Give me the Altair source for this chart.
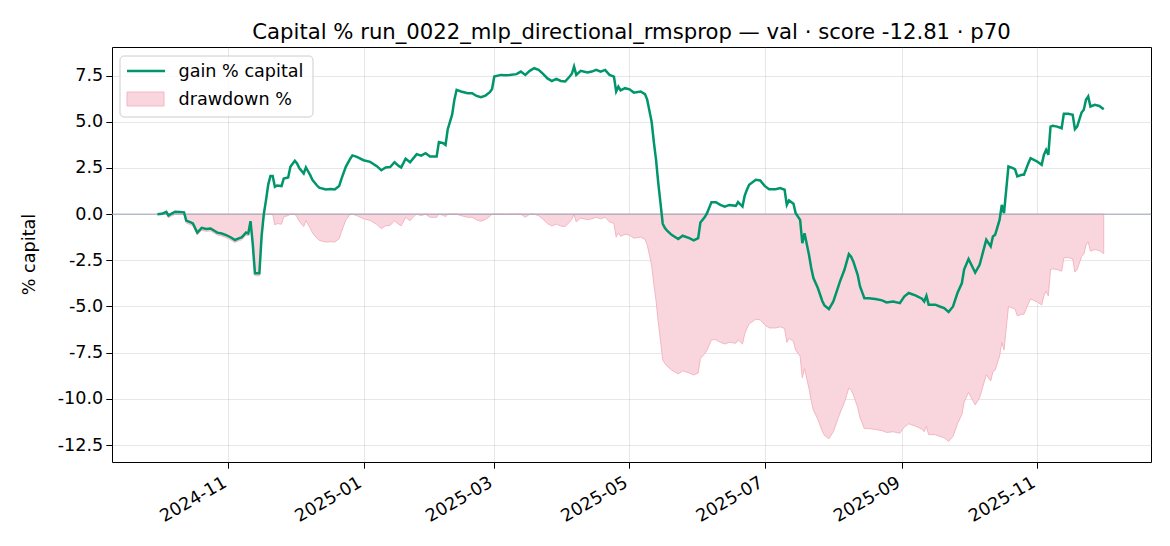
import altair as alt
import pandas as pd

TITLE = "Capital % run_0022_mlp_directional_rmsprop — val · score -12.81 · p70"
Y_TITLE = "% capital"
LEGEND_LABELS = ["gain % capital", "drawdown %"]
Y_TICKS = [-12.5, -10.0, -7.5, -5.0, -2.5, 0.0, 2.5, 5.0, 7.5]
X_TICK_MONTHS = [(2024, 11), (2025, 1), (2025, 3), (2025, 5), (2025, 7), (2025, 9), (2025, 11)]
Y_DOMAIN = [-13.42, 9.05]

DATES = [
    "2024-09-30", "2024-10-02", "2024-10-04", "2024-10-05", "2024-10-06", "2024-10-08", "2024-10-10",
    "2024-10-12", "2024-10-13", "2024-10-15", "2024-10-16", "2024-10-18", "2024-10-20", "2024-10-22",
    "2024-10-24", "2024-10-27", "2024-10-29", "2024-10-31", "2024-11-02", "2024-11-04", "2024-11-06",
    "2024-11-07", "2024-11-09", "2024-11-10", "2024-11-11", "2024-11-12", "2024-11-13", "2024-11-15",
    "2024-11-16", "2024-11-17", "2024-11-18", "2024-11-19", "2024-11-20", "2024-11-21", "2024-11-22",
    "2024-11-23", "2024-11-25", "2024-11-26", "2024-11-28", "2024-11-29", "2024-12-01", "2024-12-02",
    "2024-12-03", "2024-12-05", "2024-12-06", "2024-12-08", "2024-12-09", "2024-12-11", "2024-12-12",
    "2024-12-15", "2024-12-17", "2024-12-19", "2024-12-21", "2024-12-22", "2024-12-24", "2024-12-26",
    "2024-12-27", "2024-12-29", "2025-01-01", "2025-01-04", "2025-01-07", "2025-01-09", "2025-01-11",
    "2025-01-13", "2025-01-15", "2025-01-17", "2025-01-18", "2025-01-20", "2025-01-22", "2025-01-24",
    "2025-01-25", "2025-01-27", "2025-01-29", "2025-01-31", "2025-02-03", "2025-02-04", "2025-02-06",
    "2025-02-07", "2025-02-08", "2025-02-09", "2025-02-10", "2025-02-11", "2025-02-12", "2025-02-14",
    "2025-02-17", "2025-02-19", "2025-02-21", "2025-02-23", "2025-02-25", "2025-02-27", "2025-02-28",
    "2025-03-01", "2025-03-04", "2025-03-06", "2025-03-08", "2025-03-11", "2025-03-13", "2025-03-15",
    "2025-03-17", "2025-03-19", "2025-03-21", "2025-03-23", "2025-03-25", "2025-03-27", "2025-03-29",
    "2025-03-31", "2025-04-02", "2025-04-04", "2025-04-05", "2025-04-06", "2025-04-07", "2025-04-09",
    "2025-04-12", "2025-04-14", "2025-04-16", "2025-04-18", "2025-04-20", "2025-04-22", "2025-04-24",
    "2025-04-25", "2025-04-26", "2025-04-27", "2025-04-29", "2025-05-01", "2025-05-03", "2025-05-06",
    "2025-05-08", "2025-05-09", "2025-05-10", "2025-05-11", "2025-05-12", "2025-05-13", "2025-05-14",
    "2025-05-15", "2025-05-16", "2025-05-17", "2025-05-18", "2025-05-20", "2025-05-23", "2025-05-25",
    "2025-05-28", "2025-05-30", "2025-06-01", "2025-06-02", "2025-06-04", "2025-06-05", "2025-06-07",
    "2025-06-09", "2025-06-11", "2025-06-13", "2025-06-15", "2025-06-18", "2025-06-19", "2025-06-21",
    "2025-06-22", "2025-06-23", "2025-06-24", "2025-06-27", "2025-06-29", "2025-07-01", "2025-07-03",
    "2025-07-06", "2025-07-08", "2025-07-10", "2025-07-11", "2025-07-12", "2025-07-14", "2025-07-15",
    "2025-07-17", "2025-07-18", "2025-07-19", "2025-07-21", "2025-07-22", "2025-07-23", "2025-07-25",
    "2025-07-27", "2025-07-28", "2025-07-30", "2025-08-01", "2025-08-03", "2025-08-04", "2025-08-06",
    "2025-08-08", "2025-08-09", "2025-08-10", "2025-08-12", "2025-08-13", "2025-08-15", "2025-08-17",
    "2025-08-20", "2025-08-23", "2025-08-25", "2025-08-28", "2025-08-31", "2025-09-02", "2025-09-04",
    "2025-09-07", "2025-09-10", "2025-09-11", "2025-09-12", "2025-09-13", "2025-09-16", "2025-09-18",
    "2025-09-20", "2025-09-22", "2025-09-24", "2025-09-26", "2025-09-28", "2025-09-29", "2025-10-01",
    "2025-10-03", "2025-10-04", "2025-10-06", "2025-10-08", "2025-10-09", "2025-10-11", "2025-10-12",
    "2025-10-13", "2025-10-15", "2025-10-16", "2025-10-17", "2025-10-18", "2025-10-19", "2025-10-21",
    "2025-10-22", "2025-10-23", "2025-10-25", "2025-10-26", "2025-10-28", "2025-10-29", "2025-11-01",
    "2025-11-03", "2025-11-04", "2025-11-05", "2025-11-06", "2025-11-07", "2025-11-08", "2025-11-10",
    "2025-11-12", "2025-11-13", "2025-11-15", "2025-11-17", "2025-11-18", "2025-11-19", "2025-11-21",
    "2025-11-22", "2025-11-23", "2025-11-24", "2025-11-25", "2025-11-27", "2025-11-29", "2025-12-01",
]

GAIN = [
    0.00, 0.02, 0.13, -0.07, 0.00, 0.13, 0.12,
    0.10, -0.35, -0.45, -0.50, -1.00, -0.74, -0.80,
    -0.78, -1.00, -1.05, -1.14, -1.25, -1.40, -1.30,
    -1.26, -1.00, -1.05, -0.38, -1.60, -3.20, -3.20,
    -1.20, 0.00, 0.76, 1.60, 2.07, 2.07, 1.48,
    1.55, 1.52, 1.93, 1.99, 2.56, 2.89, 2.74,
    2.50, 2.20, 2.53, 2.10, 1.84, 1.55, 1.43,
    1.34, 1.36, 1.34, 1.52, 1.90, 2.56, 3.00,
    3.18, 3.10, 2.92, 2.83, 2.60, 2.38, 2.53,
    2.55, 2.81, 2.60, 2.53, 3.00, 2.81, 3.10,
    3.25, 3.17, 3.30, 3.12, 3.12, 3.90, 3.84,
    3.75, 4.60, 5.00, 5.40, 6.20, 6.73, 6.64,
    6.55, 6.55, 6.40, 6.33, 6.42, 6.60, 6.78,
    7.45, 7.54, 7.52, 7.54, 7.58, 7.72, 7.54,
    7.76, 7.90, 7.81, 7.60, 7.35, 7.21, 7.32,
    7.21, 7.18, 7.45, 7.60, 7.99, 7.54, 7.76,
    7.67, 7.72, 7.81, 7.72, 7.81, 7.54, 7.45,
    6.64, 6.90, 6.70, 6.82, 6.76, 6.58, 6.64,
    6.50, 6.20, 5.60, 5.00, 3.90, 2.94, 1.68,
    0.60, -0.52, -0.75, -0.90, -1.12, -1.35, -1.17,
    -1.30, -1.42, -1.30, -0.45, -0.16, 0.05, 0.65,
    0.65, 0.50, 0.41, 0.50, 0.45, 0.65, 0.41,
    1.00, 1.32, 1.59, 1.86, 1.82, 1.53, 1.35,
    1.35, 1.41, 1.32, 0.50, 0.74, 0.56, 0.05,
    -0.31, -1.57, -1.03, -2.20, -2.90, -3.46, -4.00,
    -4.70, -4.95, -5.14, -4.73, -4.00, -3.64, -3.01,
    -2.16, -2.30, -2.56, -3.30, -3.90, -4.55, -4.55,
    -4.60, -4.67, -4.78, -4.73, -4.82, -4.46, -4.27,
    -4.40, -4.58, -4.73, -4.42, -4.90, -4.90, -5.00,
    -5.09, -5.30, -5.00, -4.27, -3.73, -3.00, -2.43,
    -2.92, -3.16, -2.74, -1.84, -1.39, -1.75, -1.21,
    -1.12, -0.31, 0.50, 0.05, 1.32, 2.58, 2.49,
    2.43, 2.04, 2.13, 2.13, 2.76, 3.03, 2.85,
    2.67, 3.21, 3.48, 3.21, 4.74, 4.78, 4.74,
    4.65, 5.43, 5.43, 5.38, 4.60, 4.74, 5.50,
    5.65, 6.19, 6.37, 5.83, 5.92, 5.86, 5.68,
]

DRAWDOWN = [
    0.00, 0.00, 0.00, -0.20, -0.13, 0.00, -0.01,
    -0.03, -0.48, -0.58, -0.63, -1.13, -0.87, -0.93,
    -0.91, -1.13, -1.18, -1.27, -1.38, -1.53, -1.43,
    -1.39, -1.13, -1.18, -0.51, -1.73, -3.33, -3.33,
    -1.33, -0.13, 0.00, 0.00, 0.00, 0.00, -0.58,
    -0.51, -0.54, -0.14, -0.08, 0.00, 0.00, -0.15,
    -0.38, -0.67, -0.35, -0.77, -1.02, -1.30, -1.42,
    -1.51, -1.49, -1.51, -1.33, -0.96, -0.32, 0.00,
    0.00, -0.08, -0.25, -0.34, -0.56, -0.78, -0.63,
    -0.61, -0.36, -0.56, -0.63, -0.17, -0.36, -0.08,
    0.00, -0.08, 0.00, -0.17, -0.17, 0.00, -0.06,
    -0.14, 0.00, 0.00, 0.00, 0.00, 0.00, -0.08,
    -0.17, -0.17, -0.31, -0.38, -0.29, -0.12, 0.00,
    0.00, 0.00, -0.02, 0.00, 0.00, 0.00, -0.17,
    0.00, 0.00, -0.08, -0.28, -0.51, -0.64, -0.54,
    -0.64, -0.67, -0.42, -0.28, 0.00, -0.42, -0.21,
    -0.30, -0.25, -0.17, -0.25, -0.17, -0.42, -0.50,
    -1.25, -1.01, -1.20, -1.09, -1.14, -1.30, -1.24,
    -1.37, -1.65, -2.20, -2.77, -3.79, -4.68, -5.84,
    -6.84, -7.88, -8.09, -8.23, -8.44, -8.65, -8.48,
    -8.60, -8.71, -8.60, -7.82, -7.55, -7.36, -6.80,
    -6.80, -6.94, -7.03, -6.94, -6.99, -6.80, -7.03,
    -6.48, -6.19, -5.94, -5.69, -5.72, -5.99, -6.16,
    -6.16, -6.10, -6.19, -6.94, -6.72, -6.89, -7.36,
    -7.69, -8.86, -8.36, -9.44, -10.09, -10.61, -11.10,
    -11.75, -11.98, -12.16, -11.78, -11.10, -10.77, -10.19,
    -9.40, -9.53, -9.77, -10.46, -11.01, -11.61, -11.61,
    -11.66, -11.72, -11.82, -11.78, -11.86, -11.53, -11.35,
    -11.47, -11.64, -11.78, -11.49, -11.94, -11.94, -12.03,
    -12.11, -12.30, -12.03, -11.35, -10.85, -10.18, -9.65,
    -10.11, -10.33, -9.94, -9.11, -8.69, -9.03, -8.53,
    -8.44, -7.69, -6.94, -7.36, -6.19, -5.00, -5.09,
    -5.14, -5.50, -5.42, -5.42, -4.84, -4.59, -4.75,
    -4.92, -4.42, -4.17, -4.42, -3.00, -2.96, -3.00,
    -3.09, -2.36, -2.36, -2.41, -3.13, -3.00, -2.30,
    -2.17, -1.67, -1.50, -2.00, -1.92, -1.97, -2.14,
]

GREEN = "#00956b"
PINK_FILL = "#f9d6dd"
PINK_EDGE = "#f4b6c2"
ZERO_COLOR = "#9aa2b8"
FONT = "DejaVu Sans"

df = pd.DataFrame({"date": DATES, "gain": GAIN, "dd": DRAWDOWN})

x_scale = alt.Scale(
    type="utc",
    domain=[
        alt.DateTime(year=2024, month=9, date=9, hours=12, utc=True),
        alt.DateTime(year=2025, month=12, date=22, hours=8, utc=True),
    ],
)
y_scale = alt.Scale(domain=Y_DOMAIN, nice=False, zero=False)

x_axis = alt.Axis(
    title=None,
    values=[alt.DateTime(year=y, month=m, date=1, utc=True) for y, m in X_TICK_MONTHS],
    format="%Y-%m",
    labelAngle=-30,
    labelAlign="right",
    labelBaseline="top",
    labelPadding=5,
    labelOffset=-8,
)
y_axis = alt.Axis(
    title=Y_TITLE,
    values=Y_TICKS,
    labelExpr="datum.value < 0 ? '-' + format(-datum.value, '.1f') : format(datum.value, '.1f')",
    labelPadding=3,
    titleAngle=270,
    titleX=-83,
    titleY=207,
    titleAlign="center",
    titleBaseline="middle",
)

X = alt.X("date:T", scale=x_scale, axis=x_axis)

area = alt.Chart(df).mark_area(
    fill=PINK_FILL, stroke=PINK_EDGE, strokeWidth=1, interpolate="linear"
).encode(
    x=X,
    y=alt.Y("dd:Q", scale=y_scale, axis=y_axis),
    y2=alt.datum(0),
)

zero = alt.Chart(alt.Data(values=[{"z": 0}])).mark_rule(
    color=ZERO_COLOR, strokeWidth=1
).encode(y=alt.Y("z:Q", scale=y_scale))

line = alt.Chart(df).mark_line(color=GREEN, strokeWidth=2.5).encode(
    x=X,
    y=alt.Y("gain:Q", scale=y_scale),
)

one = alt.Data(values=[{}])
leg_box = alt.Chart(one).mark_rect(
    fill="white", fillOpacity=0.8, stroke="#cccccc", strokeWidth=1, cornerRadius=4
).encode(x=alt.value(8), x2=alt.value(201), y=alt.value(9), y2=alt.value(70))
leg_line = alt.Chart(one).mark_rule(color=GREEN, strokeWidth=2.5).encode(
    x=alt.value(15), x2=alt.value(53), y=alt.value(24)
)
leg_patch = alt.Chart(one).mark_rect(
    fill=PINK_FILL, stroke=PINK_EDGE, strokeWidth=1
).encode(x=alt.value(15), x2=alt.value(52), y=alt.value(45), y2=alt.value(59))
leg_t1 = alt.Chart(one).mark_text(
    text=LEGEND_LABELS[0], align="left", baseline="middle", font=FONT, fontSize=17.6, color="black"
).encode(x=alt.value(66.5), y=alt.value(25))
leg_t2 = alt.Chart(one).mark_text(
    text=LEGEND_LABELS[1], align="left", baseline="middle", font=FONT, fontSize=17.6, color="black"
).encode(x=alt.value(66.5), y=alt.value(53))

chart = alt.layer(area, zero, line, leg_box, leg_line, leg_patch, leg_t1, leg_t2).properties(
    width=1039,
    height=415,
    title=alt.TitleParams(
        TITLE, font=FONT, fontSize=21.2, fontWeight="normal", color="black",
        anchor="middle", frame="group", baseline="alphabetic", offset=8, dy=21,
    ),
    autosize=alt.AutoSizeParams(type="none"),
    padding={"left": 104, "top": 39, "right": 11, "bottom": 76},
    background="white",
).configure_view(
    stroke="black", strokeWidth=1
).configure_axis(
    grid=True, gridColor="#b0b0b0", gridOpacity=0.3, gridWidth=1,
    domain=False, ticks=True, tickColor="black", tickSize=6.2, tickWidth=1,
    labelFont=FONT, labelFontSize=17.6, labelColor="black", labelPadding=6.2,
    titleFont=FONT, titleFontSize=17.6, titleColor="black", titleFontWeight="normal",
)

chart.save("out.html", embed_options={"renderer": "svg", "actions": False})
